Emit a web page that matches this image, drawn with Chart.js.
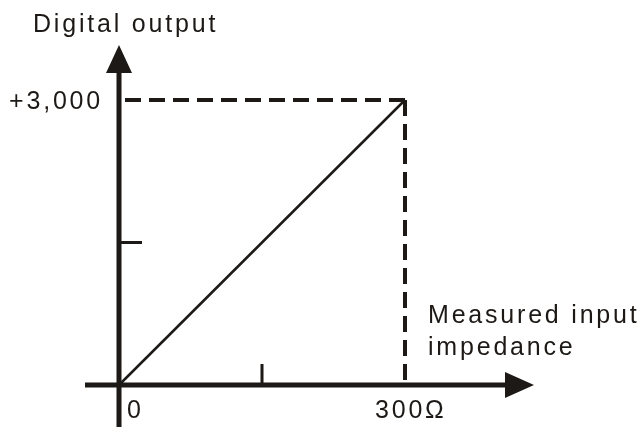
<!DOCTYPE html>
<html>
<head>
<meta charset="utf-8">
<script src="https://cdn.jsdelivr.net/npm/chart.js@4/dist/chart.umd.min.js"></script>
<style>
  html, body { margin:0; padding:0; background:#fff; }
  #wrap { width:639px; height:427px; }
</style>
</head>
<body>
<div id="wrap"><canvas id="rangeChart" width="639" height="427"></canvas></div>
<script>
// input impedance (ohm) vs. digital output
const inputOhms = [0, 300];
const outputCounts = [0, 3000];
const xMid = [150];
const yMid = [1500];
const xTickLabels = ['0', '300\u03A9'];
const yTickLabels = ['+3,000'];
const yTitle = 'Digital output';
const xTitle = ['Measured input', 'impedance'];

const ink = '#1c1916';
const font = "25px 'Liberation Sans', Arial, sans-serif";

const line = inputOhms.map((x, i) => ({x, y: outputCounts[i]}));
const xMax = inputOhms[inputOhms.length - 1], yMax = outputCounts[outputCounts.length - 1];

// axes, arrows, ticks and the labels
const axesPlugin = {
  id: 'axesPlugin',
  afterDatasetsDraw(chart){
    const {ctx, chartArea: a, scales: {x, y}} = chart;
    const x0 = x.getPixelForValue(0), y0 = y.getPixelForValue(0);
    ctx.save();
    ctx.strokeStyle = ink; ctx.fillStyle = ink;
    ctx.lineCap = 'butt';
    ctx.lineWidth = 5;
    ctx.beginPath();
    ctx.moveTo(x0 - 34, y0); ctx.lineTo(a.right + 105, y0);
    ctx.moveTo(x0, chart.height); ctx.lineTo(x0, a.top - 30);
    ctx.stroke();
    // arrow heads
    ctx.beginPath();
    ctx.moveTo(x0, a.top - 55); ctx.lineTo(x0 - 13, a.top - 27); ctx.lineTo(x0 + 13, a.top - 27); ctx.closePath();
    ctx.moveTo(a.right + 129, y0); ctx.lineTo(a.right + 100, y0 - 13); ctx.lineTo(a.right + 100, y0 + 13); ctx.closePath();
    ctx.fill();
    // mid ticks
    ctx.lineWidth = 3;
    ctx.beginPath();
    xMid.forEach(v => { const px = x.getPixelForValue(v); ctx.moveTo(px, y0 - 21); ctx.lineTo(px, y0); });
    yMid.forEach(v => { const py = y.getPixelForValue(v); ctx.moveTo(x0, py); ctx.lineTo(x0 + 23, py); });
    ctx.stroke();
    // text
    ctx.font = font;
    ctx.letterSpacing = '2.8px';
    ctx.textBaseline = 'alphabetic';
    ctx.textAlign = 'left';
    ctx.fillText(yTitle, 33, 32);
    ctx.fillText(xTitle[0], a.right + 23, 323);
    ctx.fillText(xTitle[1], a.right + 23, 355);
    ctx.fillText(xTickLabels[0], x0 + 8, y0 + 33);
    ctx.fillText(xTickLabels[1], x.getPixelForValue(xMax) - 30, y0 + 33);
    ctx.textAlign = 'right';
    ctx.fillText(yTickLabels[0], x0 - 16, y.getPixelForValue(yMax) + 9);
    ctx.restore();
  }
};

new Chart(document.getElementById('rangeChart'), {
  type: 'scatter',
  data: {
    datasets: [
      {data: line, showLine: true, borderColor: ink, borderWidth: 2.5, pointRadius: 0, clip: false},
      {data: [{x: xMax, y: yMax}, {x: 0, y: yMax}], showLine: true, borderColor: ink, borderWidth: 4, borderDash: [16, 8], pointRadius: 0, clip: false},
      {data: [{x: xMax, y: yMax}, {x: xMax, y: 0}], showLine: true, borderColor: ink, borderWidth: 4, borderDash: [16, 8], pointRadius: 0, clip: false}
    ]
  },
  options: {
    responsive: false,
    animation: false,
    devicePixelRatio: 1,
    layout: {padding: {left: 119, right: 234, top: 100, bottom: 42}},
    plugins: {legend: {display: false}, tooltip: {enabled: false}},
    scales: {
      x: {type: 'linear', min: 0, max: xMax, display: false},
      y: {type: 'linear', min: 0, max: yMax, display: false}
    }
  },
  plugins: [axesPlugin]
});
</script>
</body>
</html>
